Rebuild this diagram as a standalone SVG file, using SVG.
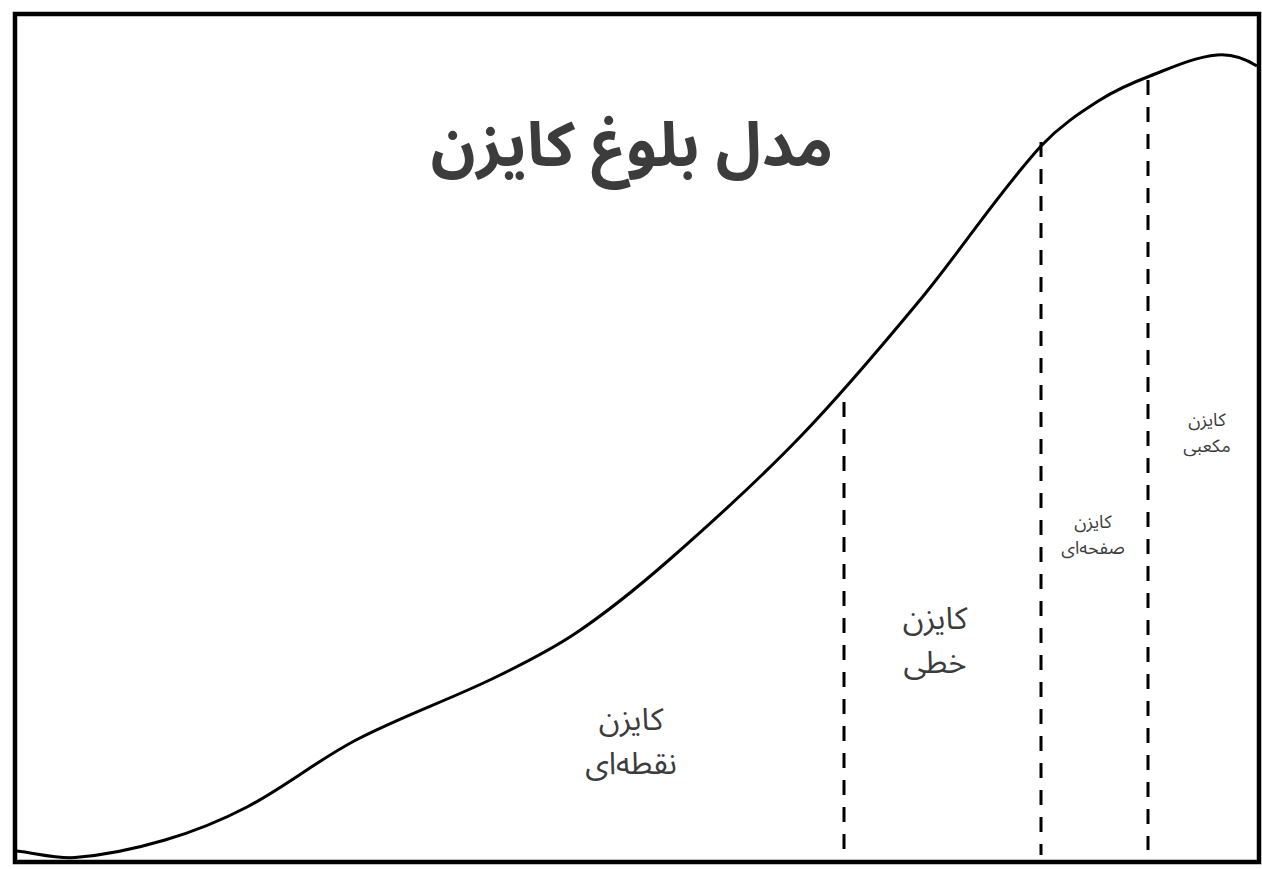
<svg xmlns="http://www.w3.org/2000/svg" width="1262" height="869" viewBox="0 0 1262 869">
<style>
.t{font-family:"Noto Sans Arabic","DejaVu Sans",sans-serif;fill:#3c3c3c;text-anchor:middle;direction:rtl}
.d{fill:none;stroke:#000;stroke-width:3;stroke-dasharray:15 12}
</style>
<rect x="0" y="0" width="1262" height="869" fill="#fff"/>
<g id="frame"><rect x="15" y="14" width="1244" height="848" fill="none" stroke="#000" stroke-width="4.5"/></g>
<g id="title"><text class="t" x="632" y="166" font-size="62" font-weight="bold">مدل بلوغ کایزن</text></g>
<g id="connectors">
<path id="curve" fill="none" stroke="#000" stroke-width="3" d="M17,851 C36.4,853.2 55.6,858.9 75,857.5 C105.5,855.2 135.7,848.6 165,840 C193.3,831.7 220.9,820.7 247,807 C284.7,787.2 318.3,759.7 356,740 C400.7,716.7 448.7,700 494,678 C522,664.4 550.1,650.4 576,633 C608.7,611 639.3,586 669,560 C714.1,520.5 758.4,480.1 800,437 C842.2,393.4 881.3,346.7 920,300 C961.7,249.7 995,197 1041,146 C1061,125 1079,113.5 1100,100 C1115.6,90 1132.7,82.6 1150,76 C1171.8,67.6 1193.7,57.2 1217,55 C1230.7,53.7 1245.3,58.7 1257,66"/>
<line class="d" x1="844" y1="402" x2="844" y2="850"/>
<line class="d" x1="1041" y1="142" x2="1041" y2="855"/>
<line class="d" x1="1148" y1="80" x2="1148" y2="850"/>
</g>
<g id="stage1"><text class="t" x="631" y="730" font-size="31">کایزن</text><text class="t" x="631" y="774" font-size="31">نقطه‌ای</text></g>
<g id="stage2"><text class="t" x="935" y="629" font-size="31">کایزن</text><text class="t" x="935" y="673" font-size="31">خطی</text></g>
<g id="stage3"><text class="t" x="1093" y="528" font-size="18">کایزن</text><text class="t" x="1093" y="554" font-size="18">صفحه‌ای</text></g>
<g id="stage4"><text class="t" x="1207" y="426" font-size="18">کایزن</text><text class="t" x="1207" y="452" font-size="18">مکعبی</text></g>
</svg>
